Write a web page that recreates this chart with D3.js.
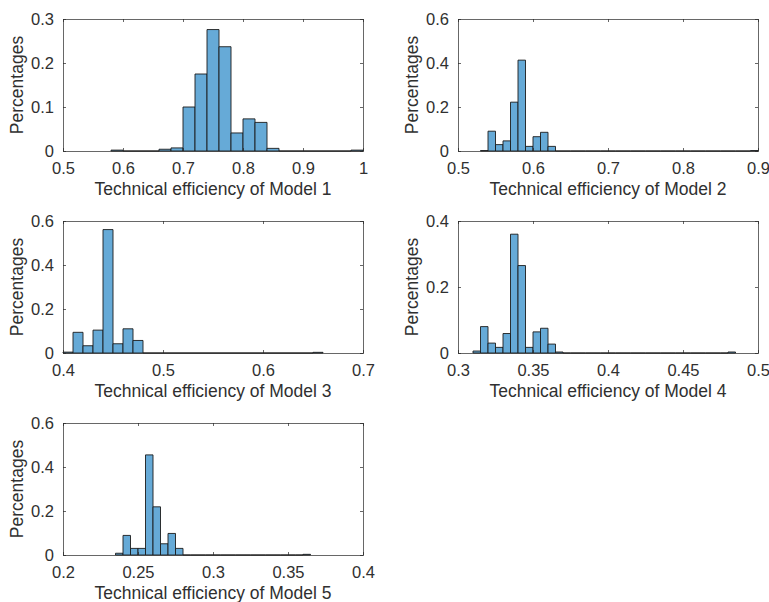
<!DOCTYPE html>
<html>
<head>
<meta charset="utf-8">
<script src="https://cdn.jsdelivr.net/npm/d3@7"></script>
<style>
  body { margin: 0; background: #fff; }
  svg { display: block; font-family: "Liberation Sans", Arial, Helvetica, sans-serif; }
</style>
</head>
<body>
<div id="chart"></div>
<script>
// histogram bins: first edge, bin width, bar heights (share of observations)
const model1Start = 0.58, model1Width = 0.02;
const model1Values = [0.002, 0, 0, 0, 0.004, 0.007, 0.100, 0.175, 0.276, 0.237, 0.041,
  0.073, 0.065, 0.006, 0, 0, 0, 0, 0, 0, 0.002];

const model2Start = 0.53, model2Width = 0.01;
const model2Values = [0.002, 0.090, 0.029, 0.046, 0.222, 0.413, 0.021, 0.065, 0.085, 0.021,
  0, 0, 0, 0, 0, 0, 0, 0, 0, 0, 0, 0, 0, 0, 0, 0, 0, 0, 0, 0, 0, 0, 0, 0, 0, 0, 0.002];

const model3Start = 0.40, model3Width = 0.01;
const model3Values = [0.004, 0.094, 0.033, 0.104, 0.561, 0.042, 0.110, 0.057,
  0, 0, 0, 0, 0, 0, 0, 0, 0, 0, 0, 0, 0, 0, 0, 0, 0, 0.003];

const model4Start = 0.31, model4Width = 0.005;
const model4Values = [0.006, 0.080, 0.030, 0.017, 0.059, 0.360, 0.265, 0.017, 0.064, 0.075,
  0.027, 0.003, 0, 0, 0, 0, 0, 0, 0, 0, 0, 0, 0, 0, 0, 0, 0, 0, 0, 0, 0, 0, 0, 0, 0.003];

const model5Start = 0.235, model5Width = 0.005;
const model5Values = [0.008, 0.089, 0.030, 0.030, 0.455, 0.219, 0.051, 0.098, 0.030,
  0, 0, 0, 0, 0, 0, 0, 0, 0, 0, 0, 0, 0, 0, 0, 0, 0.003];

// axis ticks
const xTicks1 = [0.5, 0.6, 0.7, 0.8, 0.9, 1];
const xTicks2 = [0.5, 0.6, 0.7, 0.8, 0.9];
const xTicks3 = [0.4, 0.5, 0.6, 0.7];
const xTicks4 = [0.3, 0.35, 0.4, 0.45, 0.5];
const xTicks5 = [0.2, 0.25, 0.3, 0.35, 0.4];
const yTicks1 = [0, 0.1, 0.2, 0.3];
const yTicks2 = [0, 0.2, 0.4, 0.6];
const yTicks3 = [0, 0.2, 0.4, 0.6];
const yTicks4 = [0, 0.2, 0.4];
const yTicks5 = [0, 0.2, 0.4, 0.6];

const xLabels = ["Technical efficiency of Model 1", "Technical efficiency of Model 2",
  "Technical efficiency of Model 3", "Technical efficiency of Model 4",
  "Technical efficiency of Model 5"];
const yLabel = "Percentages";

const W = 769, H = 602;
const pw = 300, ph = 132;
const lefts = [63, 458];
const tops = [19, 221, 423];
const ink = "#303030";
const barFill = "#66aad7";

const panels = [
  { start: model1Start, width: model1Width, values: model1Values, xt: xTicks1, yt: yTicks1 },
  { start: model2Start, width: model2Width, values: model2Values, xt: xTicks2, yt: yTicks2 },
  { start: model3Start, width: model3Width, values: model3Values, xt: xTicks3, yt: yTicks3 },
  { start: model4Start, width: model4Width, values: model4Values, xt: xTicks4, yt: yTicks4 },
  { start: model5Start, width: model5Width, values: model5Values, xt: xTicks5, yt: yTicks5 }
];

const svg = d3.select("#chart").append("svg")
  .attr("width", W)
  .attr("height", H);

const fmt = d3.format("~g");

panels.forEach((p, i) => {
  const left = lefts[i % 2], top = tops[Math.floor(i / 2)];
  const g = svg.append("g").attr("transform", `translate(${left},${top})`);

  const x = d3.scaleLinear()
    .domain(d3.extent(p.xt))
    .range([0, pw]);
  const y = d3.scaleLinear()
    .domain(d3.extent(p.yt))
    .range([ph, 0]);

  const bins = p.values.map((v, k) => ({
    x0: p.start + k * p.width,
    x1: p.start + (k + 1) * p.width,
    v: v
  }));

  g.selectAll("path.bar")
    .data(bins)
    .join("path")
    .attr("class", "bar")
    .attr("d", d => {
      const a = x(d.x0), b = x(d.x1), y0 = y(0), y1 = y(d.v);
      return `M${a},${y0}V${y1}H${b}V${y0}Z`;
    })
    .attr("fill", barFill)
    .attr("stroke", "#1c1c1c")
    .attr("stroke-width", 0.9);

  // box + inward ticks on all four sides
  g.append("rect")
    .attr("x", 0.5).attr("y", 0.5)
    .attr("width", pw).attr("height", ph)
    .attr("fill", "none")
    .attr("stroke", "#262626")
    .attr("stroke-opacity", 0.7)
    .attr("stroke-width", 1);

  const tl = 3;
  const bottom = d3.axisBottom(x).tickValues(p.xt).tickSizeInner(-tl).tickSizeOuter(0)
    .tickFormat(fmt);
  const leftAx = d3.axisLeft(y).tickValues(p.yt).tickSizeInner(-tl).tickSizeOuter(0)
    .tickPadding(9).tickFormat(fmt);

  const gx = g.append("g").attr("transform", `translate(0,${ph})`).call(bottom);
  const gy = g.append("g").call(leftAx);
  g.append("g").call(d3.axisTop(x).tickValues(p.xt).tickSizeInner(-tl).tickSizeOuter(0).tickFormat(""));
  g.append("g").attr("transform", `translate(${pw},0)`)
    .call(d3.axisRight(y).tickValues(p.yt).tickSizeInner(-tl).tickSizeOuter(0).tickFormat(""));

  g.selectAll(".domain").remove();
  g.selectAll(".tick line").attr("stroke", "#262626").attr("stroke-opacity", 0.7);
  [gx, gy].forEach(a => a.selectAll(".tick text")
    .attr("fill", ink)
    .style("font-size", "16.5px")
    .style("font-family", "'Liberation Sans', Arial, sans-serif"));
  gx.selectAll(".tick text").attr("dy", "0.71em").attr("y", 11);

  g.append("text")
    .attr("x", pw / 2)
    .attr("y", ph + 44)
    .attr("text-anchor", "middle")
    .attr("fill", ink)
    .style("font-size", "17.5px")
    .text(xLabels[i]);

  g.append("text")
    .attr("transform", `translate(-40,${ph / 2}) rotate(-90)`)
    .attr("text-anchor", "middle")
    .attr("fill", ink)
    .style("font-size", "17.5px")
    .text(yLabel);
});
</script>
</body>
</html>
